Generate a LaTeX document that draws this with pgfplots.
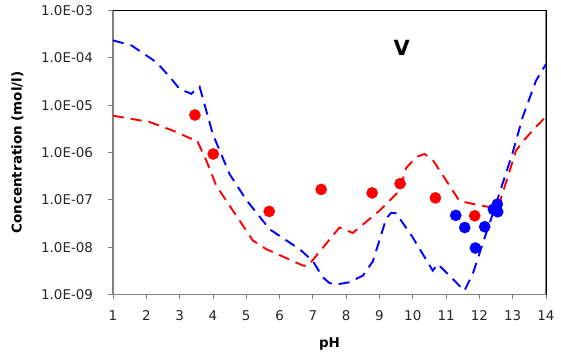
\documentclass[border=0pt]{standalone}
\usepackage{fontspec}
\setmainfont{DejaVu Sans}
\usepackage{pgfplots}
\pgfplotsset{compat=1.18}
\definecolor{xlblue}{RGB}{0,0,255}
\definecolor{xlred}{RGB}{255,0,0}
\definecolor{axgray}{RGB}{128,128,128}
\begin{document}
\begin{tikzpicture}
\useasboundingbox (-113bp,-66.5bp) rectangle (448bp,284.5bp+10bp);
\begin{axis}[
  at={(0,0)}, anchor=south west,
  scale only axis, width=433bp, height=284bp,
  xmin=1, xmax=14, ymin=1e-9, ymax=1e-3,
  ymode=log, log basis y=10,
  xtick={1,...,14},
  ytick={1e-9,1e-8,1e-7,1e-6,1e-5,1e-4,1e-3},
  yticklabels={1.0E-09,1.0E-08,1.0E-07,1.0E-06,1.0E-05,1.0E-04,1.0E-03},
  minor ytick={}, yminorticks=false,
  xtick pos=left, ytick pos=left, tick align=outside,
  major tick length=4.5bp,
  tick style={axgray, line width=0.8pt},
  axis line style={axgray, line width=1.2pt},
  /pgf/number format/assume math mode=true,
  ticklabel style={font=\fontsize{13.5}{15}\selectfont, text=black!85},
  yticklabel style={xshift=-12bp},
  xticklabel style={yshift=-8bp},
  xlabel={\textbf{pH}},
  ylabel={\textbf{Concentration (mol/l)}},
  label style={font=\fontsize{13.5}{15}\selectfont},
  xlabel style={yshift=-10bp},
  ylabel style={yshift=11bp},
  clip=false,
]
\addplot[xlblue, line width=1.9bp, dash pattern=on 11bp off 7bp] coordinates {
(1.0,2.34e-4) (1.56,1.82e-4) (2.3,8.1e-5) (2.7,4.0e-5) (3.0,2.19e-5) (3.35,1.74e-5) (3.6,2.45e-5)
(4.0,2.4e-6) (4.5,3.5e-7) (5.0,1.0e-7) (5.7,2.4e-8) (6.6,9.1e-9) (7.0,5.1e-9)
(7.3,2.3e-9) (7.5,1.75e-9) (7.7,1.62e-9) (8.1,1.82e-9) (8.5,2.5e-9) (8.8,5.0e-9) (9.0,1.4e-8) (9.2,4.0e-8)
(9.35,5.3e-8) (9.5,5.2e-8) (10.0,1.6e-8) (10.6,3.2e-9) (10.75,4.4e-9) (11.55,1.2e-9) (11.8,2.7e-9)
(12.1,1.2e-8) (12.4,5.0e-8) (13.0,1.0e-6) (13.3,5.6e-6) (13.7,3.3e-5) (14.0,7.4e-5)
};
\addplot[xlred, line width=1.9bp, dash pattern=on 11bp off 7bp] coordinates {
(1.0,6.0e-6) (2.1,4.4e-6) (2.8,2.9e-6) (3.35,1.95e-6) (3.5,1.95e-6) (3.8,6.8e-7) (4.1,2.0e-7)
(4.6,5.9e-8) (5.2,1.38e-8) (5.6,9.1e-9) (6.7,4.1e-9) (6.85,4.0e-9) (7.8,2.6e-8)
(8.2,2.0e-8) (9.0,5.9e-8) (9.6,1.55e-7) (9.8,4.7e-7) (10.1,8.0e-7) (10.35,9.3e-7) (10.6,7.0e-7) (11.4,9.5e-8)
(11.7,8.5e-8) (12.55,6.5e-8) (13.1,1.1e-6) (13.35,1.86e-6) (13.7,3.5e-6) (14.0,5.75e-6)
};
\addplot[only marks, mark=*, mark size=5.6bp, color=xlred] coordinates {
(3.46,6.2e-6) (4.01,9.3e-7) (5.69,5.7e-8) (7.25,1.66e-7) (8.78,1.4e-7)
(9.62,2.2e-7) (10.68,1.1e-7) (11.86,4.6e-8)
};
\addplot[only marks, mark=*, mark size=5.6bp, color=xlblue] coordinates {
(11.29,4.7e-8) (11.56,2.6e-8) (11.88,9.6e-9) (12.16,2.7e-8) (12.42,6.3e-8)
(12.54,8.1e-8) (12.55,5.6e-8)
};
\node[font=\fontsize{21}{24}\selectfont\bfseries] at (axis cs:9.67,1.66e-4) {V};
\draw[black, line width=0.8pt] (rel axis cs:0,1) -- (rel axis cs:1,1) -- (rel axis cs:1,0);
\end{axis}
\end{tikzpicture}
\end{document}
